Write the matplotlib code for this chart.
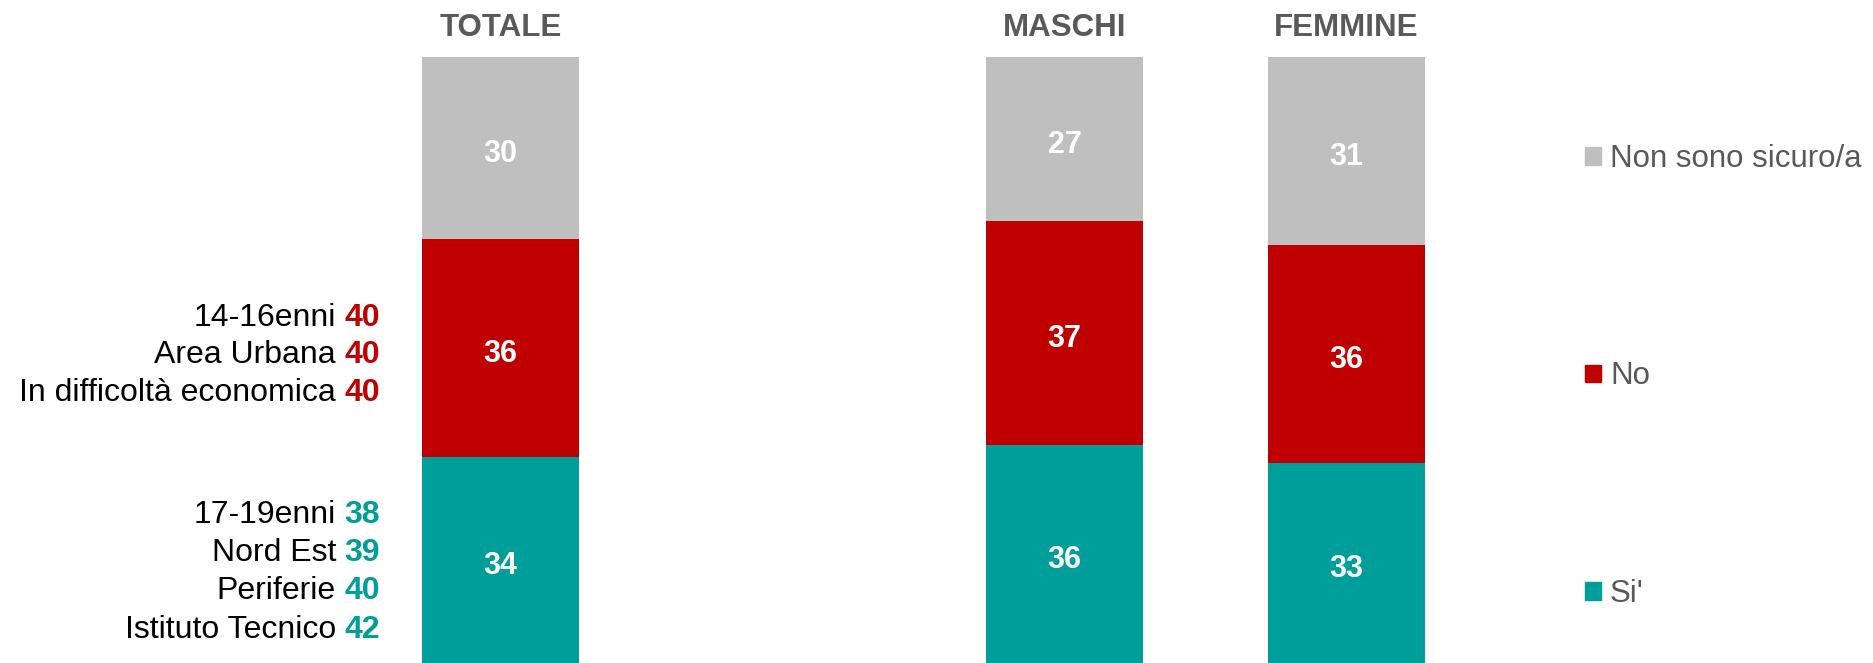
import matplotlib
matplotlib.use("Agg")
import matplotlib.pyplot as plt
from matplotlib.patches import Patch

# ---------------- data ----------------
groups = ["TOTALE", "MASCHI", "FEMMINE"]
si = [34, 36, 33]
no = [36, 37, 36]
non_sicuro = [30, 27, 31]
series_names = ["Si'", "No", "Non sono sicuro/a"]

no_labels = ["14-16enni", "Area Urbana", "In difficoltà economica"]
no_values = [40, 40, 40]
si_labels = ["17-19enni", "Nord Est", "Periferie", "Istituto Tecnico"]
si_values = [38, 39, 40, 42]

# ---------------- style ----------------
plt.rcParams["font.family"] = ["Liberation Sans", "DejaVu Sans"]
C_GRAY = "#BFBFBF"
C_RED = "#C00000"
C_TEAL = "#009E9A"
C_TEXT = "#595959"

DPI = 100
W, H = 1873, 663
fig = plt.figure(figsize=(W / DPI, H / DPI), dpi=DPI)

def px(v):
    return v * 72.0 / DPI  # pixels -> points

top_px = 57
ax = fig.add_axes([0, 0, 1, (H - top_px) / H])
unit = 282.0
c0 = 500.5
ax.set_xlim(-c0 / unit, (W - c0) / unit)
ax.set_ylim(0, 100)
ax.axis("off")

xpos = [0, 2, 3]
bw = 157 / unit

b1 = ax.bar(xpos, si, bw, color=C_TEAL, label=series_names[0])
bottom2 = [a for a in si]
b2 = ax.bar(xpos, no, bw, bottom=bottom2, color=C_RED, label=series_names[1])
bottom3 = [a + b for a, b in zip(si, no)]
b3 = ax.bar(xpos, non_sicuro, bw, bottom=bottom3, color=C_GRAY, label=series_names[2])

# value labels in bars
for cont in (b1, b2, b3):
    txts = ax.bar_label(cont, label_type="center", color="white",
                        fontsize=22, fontweight="bold")
    for t in txts:
        t.xyann = (0, -px(6))

# headings
for x, g in zip(xpos, groups):
    ax.annotate(g, xy=(x, 100), xytext=(0, px(28.5)), textcoords="offset points",
                ha="center", va="center", fontsize=22.5, fontweight="bold",
                color=C_TEXT)

# left annotations
x_left = xpos[0] - bw / 2
seg_no_center = si[0] + no[0] / 2
seg_si_center = si[0] / 2

def side_block(labels, values, color, ycenter, offsets_px, xoff_px, fs):
    for lab, val, off in zip(labels, values, offsets_px):
        num = ax.annotate(str(val), xy=(x_left, ycenter),
                          xytext=(-px(xoff_px), -px(off)), textcoords="offset points",
                          ha="right", va="baseline", fontsize=fs,
                          fontweight="bold", color=color)
        ax.annotate(lab, xy=(0, 0.5), xycoords=num,
                    xytext=(-px(8.5), 0), textcoords="offset points",
                    ha="right", va="center", fontsize=fs, color="black")

side_block(no_labels, no_values, C_RED, seg_no_center, [-22, 15, 53], 42, 23)
side_block(si_labels, si_values, C_TEAL, seg_si_center, [-37, 1, 39, 78], 42, 23)

# legend
handles = [Patch(color=C_GRAY), Patch(color=C_RED), Patch(color=C_TEAL)]
leg = fig.legend(handles, [series_names[2], series_names[1], series_names[0]],
                 loc="upper left", bbox_to_anchor=(1585 / W, 1 - 144 / H),
                 frameon=False, fontsize=22.5, handlelength=0.5, handleheight=0.5,
                 handletextpad=0.3, labelspacing=6.0, borderpad=0, borderaxespad=0)
for t in leg.get_texts():
    t.set_color(C_TEXT)

fig.savefig("out.png", dpi=DPI)
